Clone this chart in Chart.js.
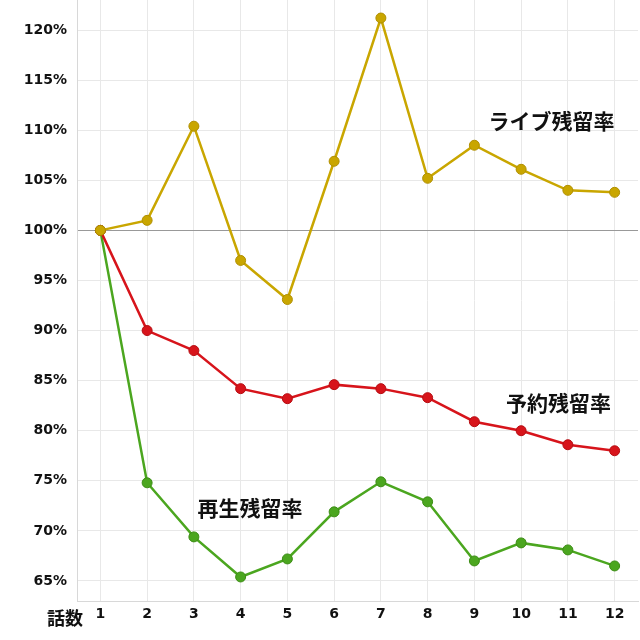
<!DOCTYPE HTML>
<html>
<head>
  <meta charset='utf-8'>
  <script src='https://cdn.jsdelivr.net/npm/chart.js'></script>
  <style>
    body { margin: 0; padding: 0; background-color: #fff; }
    .container { width: 640px; height: 640px; }
  </style>
</head>
<body>
  <div class='container'><canvas id='retChart' width='640' height='640'></canvas></div>
  <script>
    // 話数
    var episodes = ['1', '2', '3', '4', '5', '6', '7', '8', '9', '10', '11', '12'];
    // 残留率 (%)
    var liveRate = [100, 101.0, 110.4, 97.0, 93.1, 106.9, 121.2, 105.2, 108.5, 106.1, 104.0, 103.8];
    var reserveRate = [100, 90.0, 88.0, 84.2, 83.2, 84.6, 84.2, 83.3, 80.9, 80.0, 78.6, 78.0];
    var playRate = [100, 74.8, 69.4, 65.4, 67.2, 71.9, 74.9, 72.9, 67.0, 68.8, 68.1, 66.5];
    var yTicks = [65, 70, 75, 80, 85, 90, 95, 100, 105, 110, 115, 120];

    // series labels drawn inside the plot (x = episode index, y = %)
    var seriesLabels = [
      { text: 'ライブ残留率', x: 9.65, y: 110.9 },
      { text: '予約残留率', x: 9.8, y: 82.8 },
      { text: '再生残留率', x: 3.2, y: 72.3 }
    ];

    var labelPlugin = {
      id: 'labelPlugin',
      afterDraw: function(chart) {
        var c = chart.ctx, xs = chart.scales.x, ys = chart.scales.y;
        c.save();
        c.fillStyle = '#111';
        c.font = 'bold 21px "Noto Sans CJK JP"';
        c.textAlign = 'center';
        c.textBaseline = 'middle';
        seriesLabels.forEach(function(l) {
          c.fillText(l.text, xs.getPixelForValue(l.x), ys.getPixelForValue(l.y));
        });
        // x axis title, left of the tick labels
        c.font = 'bold 18px "Noto Sans CJK JP"';
        c.textAlign = 'left';
        c.fillText('話数', 47, 618);
        c.restore();
      }
    };

    function ds(label, data, color, border) {
      return {
        label: label,
        data: data,
        borderColor: color,
        backgroundColor: color,
        pointBackgroundColor: color,
        pointBorderColor: border,
        pointBorderWidth: 1,
        pointRadius: 5,
        borderWidth: 2.5,
        tension: 0
      };
    }

    var ctx = document.getElementById('retChart').getContext('2d');
    var retChart = new Chart(ctx, {
      type: 'line',
      data: {
        labels: episodes,
        datasets: [
          ds('ライブ残留率', liveRate, '#c9a600', '#b08f00'),
          ds('予約残留率', reserveRate, '#d7141b', '#b50d12'),
          ds('再生残留率', playRate, '#4ba61f', '#3c8c15')
        ]
      },
      options: {
        responsive: false,
        animation: false,
        layout: { autoPadding: false, padding: { top: 0, right: 2, bottom: 0, left: 0 } },
        plugins: { legend: { display: false }, tooltip: { enabled: false } },
        scales: {
          x: {
            offset: true,
            grid: { color: '#e8e8e8', drawTicks: false, offset: false },
            border: { color: '#d8d8d8' },
            ticks: {
              color: '#111',
              padding: 5,
              font: { family: 'DejaVu Sans', size: 14, weight: 'bold' }
            },
            afterFit: function(s) {
              s.height = 39;
              s.paddingLeft = 0;
              s.paddingRight = 0;
            }
          },
          y: {
            min: 63,
            max: 123,
            grid: {
              drawTicks: false,
              color: function(c) { return c.tick && c.tick.value === 100 ? '#999999' : '#e8e8e8'; }
            },
            border: { color: '#d8d8d8' },
            afterBuildTicks: function(s) {
              s.ticks = yTicks.map(function(v) { return { value: v }; });
            },
            ticks: {
              color: '#111',
              padding: 10,
              font: { family: 'DejaVu Sans', size: 14, weight: 'bold' },
              callback: function(v) { return v + '%'; }
            },
            afterFit: function(s) {
              s.width = 77;
              s.paddingTop = 0;
              s.paddingBottom = 0;
            }
          }
        }
      },
      plugins: [labelPlugin]
    });
  </script>
</body>
</html>
